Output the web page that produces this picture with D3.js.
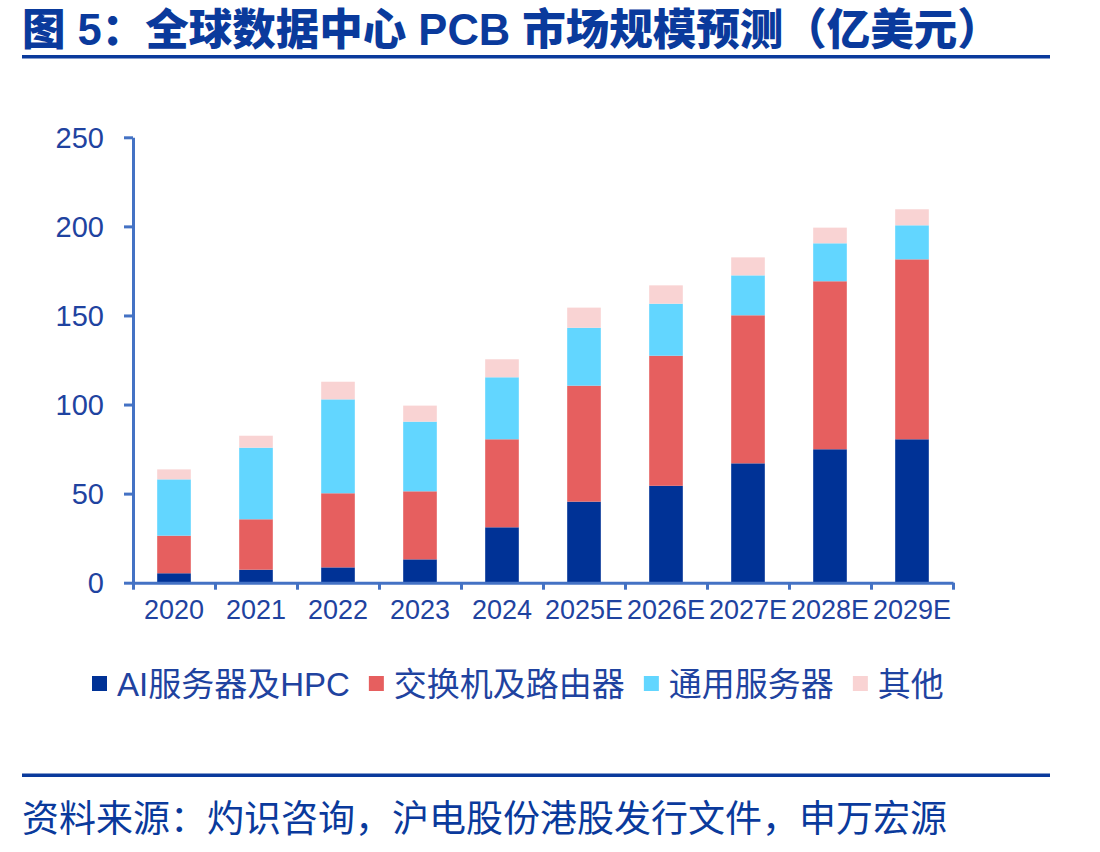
<!DOCTYPE html>
<html>
<head>
<meta charset="utf-8">
<script src="https://cdn.jsdelivr.net/npm/d3@7"></script>
<style>
  body { margin: 0; background: #fff; }
  svg text { font-family: "Liberation Sans", Arial, "Noto Sans CJK SC", sans-serif; }
</style>
</head>
<body>
<div id="chart"></div>
<script>
// data (亿美元)
const categories = ["2020", "2021", "2022", "2023", "2024", "2025E", "2026E", "2027E", "2028E", "2029E"];
const aiHpc = [5.3, 7.3, 8.6, 13.1, 31.1, 45.5, 54.4, 67.0, 74.9, 80.5];
const switchRouter = [21.1, 28.3, 41.6, 38.2, 49.4, 65.1, 73.0, 83.1, 94.3, 101.0];
const generalServer = [31.6, 40.2, 52.7, 39.1, 34.8, 32.5, 29.2, 22.4, 21.3, 19.1];
const others = [5.6, 6.7, 9.9, 9.0, 10.1, 11.3, 10.3, 10.1, 8.8, 9.0];
const seriesNames = ["AI服务器及HPC", "交换机及路由器", "通用服务器", "其他"];
const yTicks = [0, 50, 100, 150, 200, 250];

const colors = ["#003296", "#E65F5F", "#62D6FF", "#F9D3D3"];
const textBlue = "#1F43A0";
const axisBlue = "#4472C4";

const width = 1100, height = 852;
const svg = d3.select("#chart").append("svg")
  .attr("width", width)
  .attr("height", height);

// title + rules
svg.append("text")
  .attr("x", 22).attr("y", 45)
  .attr("fill", "#0A3A9C")
  .attr("font-size", 43.5)
  .attr("font-weight", 900)
  .style("font-family", "'Liberation Sans', 'Noto Sans CJK SC', sans-serif")
  .text("图 5：全球数据中心 PCB 市场规模预测（亿美元）");

svg.append("rect").attr("x", 22).attr("y", 55).attr("width", 1028).attr("height", 3.5).attr("fill", "#0A3A9C");
svg.append("rect").attr("x", 22).attr("y", 773.5).attr("width", 1028).attr("height", 3.5).attr("fill", "#0A3A9C");

svg.append("text")
  .attr("x", 22).attr("y", 832)
  .attr("fill", "#0A3A9C")
  .attr("font-size", 37)
  .style("font-family", "'Noto Sans CJK SC', sans-serif")
  .text("资料来源：灼识咨询，沪电股份港股发行文件，申万宏源");

// scales
const x0 = 133, x1 = 953, yBottom = 582.7, yTop = 137.3;

const x = d3.scaleBand()
  .domain(categories)
  .range([x0, x1])
  .paddingInner(0.59)
  .paddingOuter(0.295);

const y = d3.scaleLinear()
  .domain([0, 250])
  .range([yBottom, yTop]);

// stacked bars
const table = categories.map((c, i) => ({
  cat: c,
  s0: aiHpc[i], s1: switchRouter[i], s2: generalServer[i], s3: others[i]
}));
const stacked = d3.stack().keys(["s0", "s1", "s2", "s3"])(table);

svg.append("g").selectAll("g")
  .data(stacked)
  .enter().append("g")
  .attr("fill", (d, i) => colors[i])
  .selectAll("rect")
  .data(d => d)
  .enter().append("rect")
  .attr("x", d => x(d.data.cat))
  .attr("width", x.bandwidth())
  .attr("y", d => y(d[1]))
  .attr("height", d => y(d[0]) - y(d[1]));

// y axis
const yAxis = svg.append("g")
  .attr("transform", `translate(${x0},0)`)
  .call(d3.axisLeft(y).tickValues(yTicks).tickSize(9).tickSizeOuter(0).tickPadding(20));
yAxis.select(".domain").attr("stroke", axisBlue).attr("stroke-width", 3);
yAxis.selectAll(".tick line").attr("stroke", axisBlue).attr("stroke-width", 3);
yAxis.selectAll(".tick text")
  .attr("fill", textBlue)
  .attr("font-size", 29)
  .attr("dy", "0.34em");

// x axis: boundary ticks
const xEdge = d3.scaleLinear().domain([0, categories.length]).range([x0, x1]);
const xAxis = svg.append("g")
  .attr("transform", `translate(0,${yBottom})`)
  .call(d3.axisBottom(xEdge).tickValues(d3.range(categories.length + 1)).tickFormat("").tickSize(7).tickSizeOuter(0));
xAxis.select(".domain").attr("stroke", axisBlue).attr("stroke-width", 3);
xAxis.selectAll(".tick line").attr("stroke", axisBlue).attr("stroke-width", 3);

// x labels
const xLabels = svg.append("g")
  .attr("transform", `translate(0,${yBottom})`)
  .call(d3.axisBottom(x).tickSize(0).tickPadding(0));
xLabels.select(".domain").remove();
xLabels.selectAll(".tick text")
  .attr("fill", textBlue)
  .attr("font-size", 27)
  .attr("dy", 0)
  .attr("y", 36)
  .style("font-family", "'Liberation Sans Narrow', 'Liberation Sans', sans-serif");

// legend
const legend = svg.append("g");
let lx = 92;
seriesNames.forEach((name, i) => {
  legend.append("rect")
    .attr("x", lx).attr("y", 676)
    .attr("width", 15).attr("height", 15)
    .attr("fill", colors[i]);
  const t = legend.append("text")
    .attr("x", lx + 25).attr("y", 696)
    .attr("fill", textBlue)
    .attr("font-size", 33)
    .text(name);
  lx += 25 + t.node().getComputedTextLength() + 19;
});
</script>
</body>
</html>
